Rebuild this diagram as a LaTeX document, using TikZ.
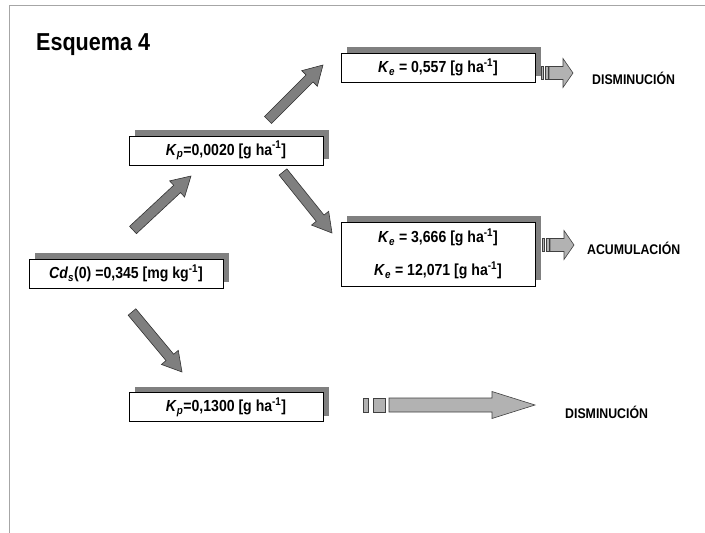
\documentclass[tikz,border=0pt]{standalone}
\usepackage{fontspec}
\setmainfont{Liberation Sans}[FakeStretch=0.88]
\usepackage{tikz}
\usetikzlibrary{calc, shadows}
\definecolor{shadegray}{HTML}{808080}
\definecolor{darkarrow}{HTML}{7F7F7F}
\definecolor{lightarrow}{HTML}{B2B2B2}
\definecolor{framegray}{HTML}{A6A6A6}
\tikzstyle{valuebox}    = [rectangle, draw=black, fill=white, line width=0.8pt, minimum width=194pt, minimum height=29pt, inner sep=0pt, align=center, font=\fontsize{16}{18}\selectfont\bfseries, general shadow={draw=none, fill=shadegray, shadow xshift=6pt, shadow yshift=6pt}]
\tikzstyle{fatarrow}    = [fill=darkarrow, draw=black!80, line width=0.6pt, line join=miter]
\tikzstyle{stripearrow} = [fill=lightarrow, draw=black!75, line width=0.6pt]
\tikzstyle{outcome}     = [anchor=west, inner sep=0pt, font=\fontsize{14}{16}\selectfont\bfseries]
\newcommand{\Ksub}[1]{\textit{K}\textsubscript{\textit{#1}}}
\newcommand{\minusone}{\textsuperscript{-1}}
% thick block arrow between two named coordinates
\newcommand{\blockarrow}[2]{%
  \coordinate (hd) at ($(#2)!19pt!(#1)$);
  \draw [fatarrow] ($(#1)!5pt!90:(#2)$) -- ($(hd)!5pt!90:(#2)$) -- ($(hd)!11pt!90:(#2)$) -- (#2)
        -- ($(hd)!11pt!-90:(#2)$) -- ($(hd)!5pt!-90:(#2)$) -- ($(#1)!5pt!-90:(#2)$) -- cycle;}

\begin{document}
\begin{tikzpicture}[x=1pt, y=-1pt]
    \useasboundingbox (0,0) rectangle (705,533);
    \draw [framegray, line width=1pt] (705,5) -- (9,5) -- (9,533);

    \node (title) at (36,50) [anchor=base west, inner sep=0pt, font=\fontsize{24.5}{26}\selectfont\bfseries] {Esquema 4};

    \node (cd)  at (126,273.5) [valuebox] {\textit{Cd}\textsubscript{\textit{s}}(0) =0,345 [mg kg\minusone]};
    \node (kpa) at (226,150.5) [valuebox] {\Ksub{p}=0,0020 [g ha\minusone]};
    \node (kpb) at (226,407)   [valuebox] {\Ksub{p}=0,1300 [g ha\minusone]};
    \node (kea) at (438,67.5)  [valuebox] {\Ksub{e} = 0,557 [g ha\minusone]};
    \node (keb) at (438,254)   [valuebox, minimum height=64pt, font=\fontsize{16}{33}\selectfont\bfseries]
          {\Ksub{e} = 3,666 [g ha\minusone]\\\Ksub{e} = 12,071 [g ha\minusone]};

    \node (dis1) at (592,78)  [outcome] {DISMINUCIÓN};
    \node (acu)  at (587,248) [outcome] {ACUMULACIÓN};
    \node (dis2) at (565,412) [outcome] {DISMINUCIÓN};

    \coordinate (s1) at (133,230); \coordinate (e1) at (191,176);
    \coordinate (s2) at (268,120); \coordinate (e2) at (323,65);
    \coordinate (s3) at (283,172); \coordinate (e3) at (332,233);
    \coordinate (s4) at (132,312); \coordinate (e4) at (182,372);
    \blockarrow{s1}{e1}
    \blockarrow{s2}{e2}
    \blockarrow{s3}{e3}
    \blockarrow{s4}{e4}

    \coordinate (ra) at (541,73);
    \coordinate (rb) at (542,245);
    \coordinate (rc) at (363,405);
    \foreach \r in {ra, rb} {
        \begin{scope}[shift={(\r)}]
            \draw [stripearrow] (0,-6.5) rectangle (2,6.5);
            \draw [stripearrow] (4,-6.5) rectangle (7,6.5);
            \draw [stripearrow] (8,-6.5) -- (22,-6.5) -- (22,-14.5) -- (32,0) -- (22,14.5) -- (22,6.5) -- (8,6.5) -- cycle;
        \end{scope}
    }
    \begin{scope}[shift={(rc)}]
        \draw [stripearrow] (0,-7) rectangle (5,7);
        \draw [stripearrow] (10,-7) rectangle (22,7);
        \draw [stripearrow] (26,-7) -- (129,-7) -- (129,-13.5) -- (172,0) -- (129,13.5) -- (129,7) -- (26,7) -- cycle;
    \end{scope}
\end{tikzpicture}
\end{document}
